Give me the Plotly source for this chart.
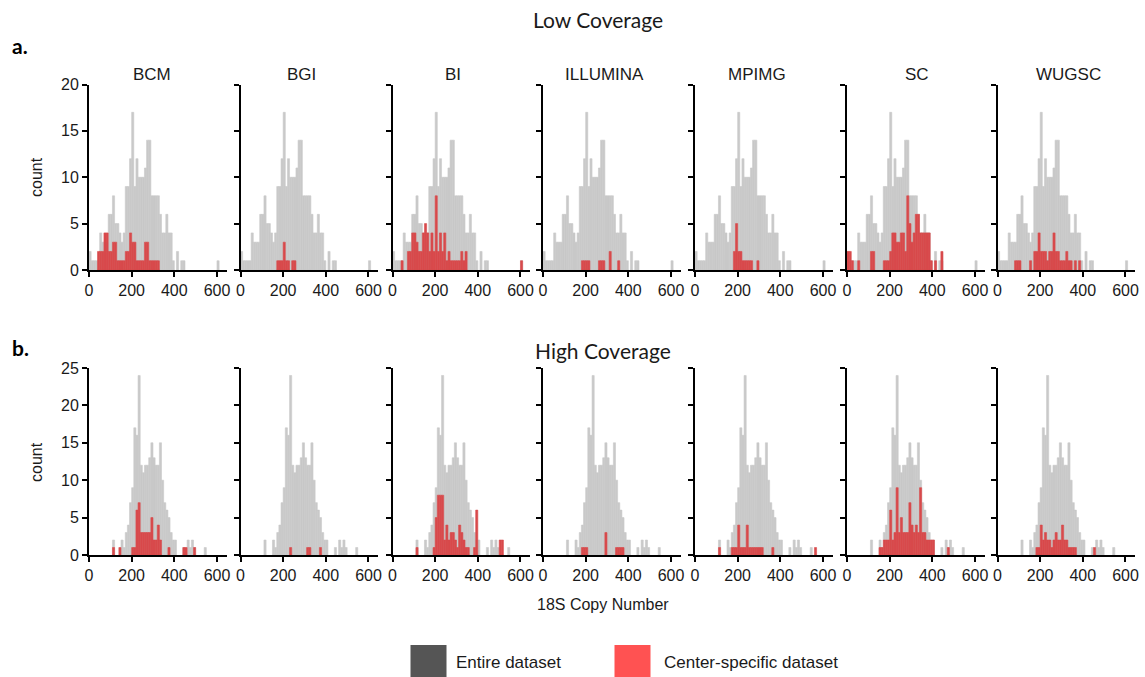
import plotly.graph_objects as go

# ---------------- data ----------------
centers = ["BCM", "BGI", "BI", "ILLUMINA", "MPIMG", "SC", "WUGSC"]
bin_width = 10
bin_starts = [10 * i for i in range(61)]   # 0 .. 600
x_ticks = [0, 200, 400, 600]

# Entire dataset, low coverage (count per 10-wide bin, 0..600)
low_all = [2, 1, 1, 1, 1, 4, 3, 3, 3, 6,
           6, 8, 5, 5, 4, 3, 4, 9, 9, 12,
           17, 9, 12, 10, 10, 10, 11, 14, 14, 8,
           8, 8, 8, 6, 4, 4, 6, 4, 4, 1,
           0, 2, 0, 1, 1, 0, 0, 0, 0, 0,
           0, 0, 0, 0, 0, 0, 0, 0, 0, 0, 1]

# Entire dataset, high coverage
high_all = [0, 0, 0, 0, 0, 0, 0, 0, 0, 0,
            0, 2, 0, 0, 0, 2, 1, 3, 4, 7,
            9, 17, 16, 24, 12, 11, 12, 12, 13, 15,
            13, 12, 12, 15, 10, 7, 6, 5, 3, 2,
            2, 0, 0, 0, 1, 0, 2, 1, 2, 1,
            0, 0, 0, 0, 1, 0, 0, 0, 0, 0, 0]

# Center-specific, low coverage {bin start: count}
low_BCM = {40: 2, 50: 2, 60: 2, 70: 4, 80: 4, 90: 2, 100: 2, 110: 3, 120: 3, 130: 1,
           140: 1, 150: 1, 160: 1, 170: 2, 180: 2, 190: 4, 200: 3, 210: 3, 220: 1, 230: 1,
           240: 1, 250: 1, 260: 3, 270: 3, 280: 1, 290: 1, 300: 1, 310: 1, 320: 1}
low_BGI = {170: 1, 180: 1, 190: 1, 200: 3, 210: 1, 220: 1, 240: 1, 250: 1}
low_BI = {40: 1, 70: 2, 80: 2, 90: 4, 100: 4, 110: 3, 120: 2, 130: 2, 140: 4, 150: 5,
          160: 4, 170: 2, 180: 4, 190: 2, 200: 8, 210: 2, 220: 4, 230: 2, 240: 4, 250: 1,
          260: 2, 270: 1, 280: 1, 290: 1, 300: 1, 310: 1, 320: 2, 330: 1, 340: 2, 600: 1}
low_ILLUMINA = {180: 1, 190: 1, 200: 1, 210: 1, 260: 1, 270: 1, 280: 1, 310: 2, 350: 1}
low_MPIMG = {180: 2, 190: 5, 200: 2, 210: 2, 220: 1, 230: 1, 240: 1, 250: 1, 260: 1, 290: 1}
low_SC = {0: 2, 10: 2, 20: 1, 50: 1, 110: 2, 120: 2, 170: 1, 180: 1, 190: 1, 200: 2,
          210: 4, 220: 4, 230: 3, 240: 3, 250: 4, 260: 4, 270: 2, 280: 8, 290: 5, 300: 3,
          310: 4, 320: 6, 330: 6, 340: 4, 350: 4, 360: 4, 370: 4, 380: 4, 390: 1, 410: 1, 440: 2}
low_WUGSC = {80: 1, 90: 1, 100: 1, 150: 1, 170: 2, 180: 2, 190: 4, 200: 2, 210: 2, 220: 2,
             230: 1, 240: 2, 250: 2, 260: 4, 270: 2, 280: 2, 290: 1, 300: 1, 310: 1, 320: 2,
             330: 1, 340: 1, 360: 1, 380: 1}

# Center-specific, high coverage
high_BCM = {110: 1, 140: 1, 200: 1, 210: 1, 220: 6, 230: 7, 240: 3, 250: 3, 260: 3, 270: 3,
            280: 3, 290: 5, 300: 2, 310: 2, 320: 4, 330: 2, 370: 1, 440: 1, 450: 1, 490: 1}
high_BGI = {230: 1, 310: 1, 320: 1, 370: 1}
high_BI = {110: 1, 190: 1, 200: 5, 210: 8, 220: 8, 230: 8, 240: 2, 250: 4, 260: 2, 270: 3,
           280: 3, 290: 2, 300: 1, 310: 4, 320: 3, 330: 2, 340: 1, 350: 1, 380: 1, 390: 6,
           500: 2, 510: 2}
high_ILLUMINA = {180: 1, 190: 1, 200: 1, 290: 3, 340: 1, 350: 1, 360: 1, 370: 1}
high_MPIMG = {110: 1, 170: 1, 180: 1, 190: 1, 200: 4, 210: 1, 220: 1, 230: 1, 240: 4, 250: 1,
              260: 1, 270: 1, 280: 1, 290: 1, 300: 1, 310: 1, 360: 1, 560: 1}
high_SC = {150: 1, 160: 1, 170: 2, 180: 2, 190: 2, 200: 6, 210: 2, 220: 3, 230: 9, 240: 3,
           250: 5, 260: 3, 270: 3, 280: 3, 290: 7, 300: 4, 310: 3, 320: 4, 330: 3, 340: 9,
           350: 3, 360: 3, 370: 2, 380: 2, 390: 2, 400: 2, 470: 1}
high_WUGSC = {180: 1, 190: 1, 200: 4, 210: 2, 220: 3, 230: 2, 240: 2, 250: 1, 260: 2, 270: 3,
              280: 2, 290: 2, 300: 4, 310: 2, 320: 2, 330: 1, 340: 1, 350: 1, 360: 1, 450: 1}

low_red = [low_BCM, low_BGI, low_BI, low_ILLUMINA, low_MPIMG, low_SC, low_WUGSC]
high_red = [high_BCM, high_BGI, high_BI, high_ILLUMINA, high_MPIMG, high_SC, high_WUGSC]

# ---------------- styling / layout ----------------
W, H = 1145, 677
GRAY = "#c9c9c9"
RED = "#d84a4c"
FONT = "Liberation Sans"
TXT = "#1a1a1a"

panel_x0 = [89, 240.5, 392.5, 543, 695, 847, 997.5]   # pixel of x=0 in each panel
px_per_unit = 0.2133
x_max = 645
panel_w = x_max * px_per_unit
rows = [  # (top px, bottom px, ymax)
    (84.5, 270, 20),
    (368, 555, 25),
]
label_x = [152, 301, 453, 604, 757, 917, 1068]


def nz(vals):
    return [v if v else None for v in vals]


fig = go.Figure()
centers_x = [s + bin_width / 2 for s in bin_starts]

layout = dict(
    width=W, height=H, autosize=False,
    margin=dict(l=0, r=0, t=0, b=0, pad=0),
    paper_bgcolor="white", plot_bgcolor="white",
    barmode="overlay", showlegend=False,
    font=dict(family=FONT, size=16, color=TXT),
)

n = 0
for r, (top, bot, ymax) in enumerate(rows):
    all_counts = low_all if r == 0 else high_all
    reds = low_red if r == 0 else high_red
    for k, c in enumerate(centers):
        n += 1
        xa = "x" if n == 1 else f"x{n}"
        ya = "y" if n == 1 else f"y{n}"
        fig.add_trace(go.Bar(x=centers_x, y=nz(all_counts), width=bin_width,
                             marker=dict(color=GRAY, line=dict(width=0.6, color=GRAY)),
                             xaxis=xa, yaxis=ya, hoverinfo="skip"))
        red_counts = [reds[k].get(s, 0) for s in bin_starts]
        fig.add_trace(go.Bar(x=centers_x, y=nz(red_counts), width=bin_width,
                             marker=dict(color=RED, line=dict(width=0.6, color=RED)),
                             xaxis=xa, yaxis=ya, hoverinfo="skip"))
        x0 = panel_x0[k]
        axkw = dict(showline=True, linecolor="black", linewidth=2,
                    ticks="outside", ticklen=5, tickwidth=2, tickcolor="black",
                    showgrid=False, zeroline=False, automargin=False,
                    tickfont=dict(family=FONT, size=16, color=TXT))
        layout[f"xaxis{'' if n == 1 else n}"] = dict(
            domain=[x0 / W, (x0 + panel_w) / W], range=[0, x_max], anchor=ya,
            tickvals=x_ticks, ticktext=[str(t) for t in x_ticks], **axkw)
        layout[f"yaxis{'' if n == 1 else n}"] = dict(
            domain=[1 - bot / H, 1 - top / H], range=[0, ymax], anchor=xa,
            tickvals=list(range(0, ymax + 1, 5)),
            showticklabels=(k == 0), **axkw)

annotations = []
for k, c in enumerate(centers):
    annotations.append(dict(text=c, x=label_x[k] / W, y=1 - 75 / H, xref="paper", yref="paper",
                            showarrow=False, font=dict(family=FONT, size=17, color=TXT),
                            xanchor="center", yanchor="middle"))
TITLE_FONT = "Lato"
annotations += [
    dict(text="Low Coverage", x=598 / W, y=1 - 20 / H, xref="paper", yref="paper", showarrow=False,
         font=dict(family=TITLE_FONT, size=21, color=TXT), xanchor="center", yanchor="middle"),
    dict(text="High Coverage", x=603 / W, y=1 - 350 / H, xref="paper", yref="paper", showarrow=False,
         font=dict(family=TITLE_FONT, size=21, color=TXT), xanchor="center", yanchor="middle"),
    dict(text="<b>a.</b>", x=10 / W, y=1 - 46 / H, xref="paper", yref="paper", showarrow=False,
         font=dict(family=TITLE_FONT, size=21, color="black"), xanchor="left", yanchor="middle"),
    dict(text="<b>b.</b>", x=10 / W, y=1 - 347 / H, xref="paper", yref="paper", showarrow=False,
         font=dict(family=TITLE_FONT, size=21, color="black"), xanchor="left", yanchor="middle"),
    dict(text="count", x=36 / W, y=1 - 177 / H, xref="paper", yref="paper", showarrow=False,
         textangle=-90, font=dict(family=FONT, size=16, color=TXT), xanchor="center", yanchor="middle"),
    dict(text="count", x=36 / W, y=1 - 462 / H, xref="paper", yref="paper", showarrow=False,
         textangle=-90, font=dict(family=FONT, size=16, color=TXT), xanchor="center", yanchor="middle"),
    dict(text="18S Copy Number", x=603 / W, y=1 - 604 / H, xref="paper", yref="paper", showarrow=False,
         font=dict(family=FONT, size=16, color=TXT), xanchor="center", yanchor="middle"),
    dict(text="Entire dataset", x=454 / W, y=1 - 662 / H, xref="paper", yref="paper", showarrow=False,
         font=dict(family=FONT, size=17, color=TXT), xanchor="left", yanchor="middle"),
    dict(text="Center-specific dataset", x=662 / W, y=1 - 662 / H, xref="paper", yref="paper",
         showarrow=False, font=dict(family=FONT, size=17, color=TXT), xanchor="left", yanchor="middle"),
]
shapes = [
    dict(type="rect", xref="paper", yref="paper", x0=410.5 / W, x1=446.5 / W, y0=0, y1=1 - 645 / H,
         fillcolor="#555555", line=dict(width=0)),
    dict(type="rect", xref="paper", yref="paper", x0=614.5 / W, x1=650.5 / W, y0=0, y1=1 - 645 / H,
         fillcolor="#ff5252", line=dict(width=0)),
]
layout["annotations"] = annotations
layout["shapes"] = shapes
fig.update_layout(**layout)
fig.write_html("out.html", config={"displayModeBar": False, "staticPlot": True},
               post_script="document.body.style.margin='0';document.body.style.overflow='hidden';")
